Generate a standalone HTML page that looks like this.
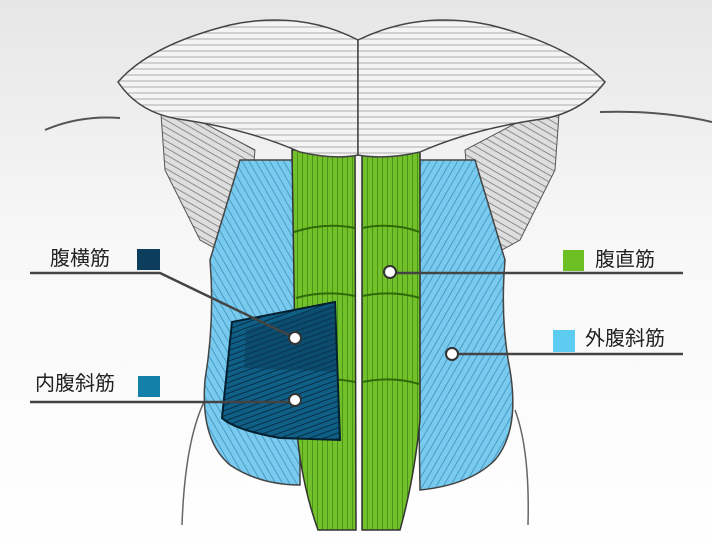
<!DOCTYPE html>
<html><head><meta charset="utf-8"><style>
html,body{margin:0;padding:0;background:#fff}
svg{display:block}
text{font-family:"Liberation Sans","Noto Sans CJK JP",sans-serif;font-size:20px;fill:#222}
</style></head><body>
<svg width="712" height="557" viewBox="0 0 712 557" xmlns="http://www.w3.org/2000/svg">
<defs>
<linearGradient id="bg" x1="0" y1="0" x2="0" y2="1">
<stop offset="0" stop-color="#e6e6e6"/><stop offset="0.45" stop-color="#f8f8f8"/><stop offset="1" stop-color="#fff"/>
</linearGradient>
<pattern id="hl" width="6" height="6" patternUnits="userSpaceOnUse"><rect width="6" height="6" fill="#f4f4f4"/><path d="M0 3H6" stroke="#9a9a9a" stroke-width="0.8"/></pattern>
<pattern id="gv" width="5" height="5" patternUnits="userSpaceOnUse"><rect width="5" height="5" fill="#72c12a"/><path d="M2.5 0V5" stroke="#3f8a10" stroke-width="0.8"/></pattern>
<pattern id="bl" width="6" height="6" patternUnits="userSpaceOnUse" patternTransform="rotate(60)"><rect width="6" height="6" fill="#78cbef"/><path d="M0 3H6" stroke="#3f8fb8" stroke-width="0.8"/></pattern>
<pattern id="br" width="6" height="6" patternUnits="userSpaceOnUse" patternTransform="rotate(-60)"><rect width="6" height="6" fill="#78cbef"/><path d="M0 3H6" stroke="#3f8fb8" stroke-width="0.8"/></pattern>
<pattern id="dk" width="5" height="5" patternUnits="userSpaceOnUse" patternTransform="rotate(-20)"><rect width="5" height="5" fill="#0f5f86"/><path d="M0 2.5H5" stroke="#062a40" stroke-width="0.9"/></pattern>
<pattern id="sv" width="6" height="6" patternUnits="userSpaceOnUse" patternTransform="rotate(30)"><rect width="6" height="6" fill="#dedede"/><path d="M0 3H6" stroke="#777" stroke-width="0.8"/></pattern>
</defs>
<rect width="712" height="557" fill="url(#bg)"/>
<path d="M45 130 Q80 115 120 118" fill="none" stroke="#555" stroke-width="2"/>
<path d="M600 112 Q660 110 712 122" fill="none" stroke="#555" stroke-width="2"/>
<path d="M205 400 Q185 440 182 525" fill="none" stroke="#666" stroke-width="1.5"/>
<path d="M515 410 Q530 450 528 525" fill="none" stroke="#666" stroke-width="1.5"/>
<path d="M160 100 L255 150 L245 265 L200 240 L165 170 Z" fill="url(#sv)" stroke="#555"/>
<path d="M560 100 L465 150 L475 265 L520 240 L555 170 Z" fill="url(#sv)" stroke="#555"/>
<path d="M240 160 L300 160 L300 485 Q260 485 230 465 Q200 440 205 380 Q215 320 210 260 Z" fill="url(#bl)" stroke="#444" stroke-width="1.5"/>
<path d="M475 160 L415 160 L420 490 Q470 485 495 460 Q520 430 510 370 Q500 320 505 260 Z" fill="url(#br)" stroke="#444" stroke-width="1.5"/>
<path d="M292 150 L355 150 L356 530 L318 530 Q300 480 296 420 Z" fill="url(#gv)" stroke="#333" stroke-width="1.5"/>
<path d="M362 150 L420 150 L420 420 Q414 480 400 530 L362 530 Z" fill="url(#gv)" stroke="#333" stroke-width="1.5"/>
<g stroke="#2f6a0a" stroke-width="2" fill="none">
<path d="M294 232 Q325 222 355 228"/><path d="M362 228 Q392 222 420 232"/>
<path d="M296 298 Q325 290 355 296"/><path d="M362 296 Q392 290 420 298"/>
<path d="M298 382 Q325 376 355 382"/><path d="M362 382 Q392 376 419 384"/>
</g>
<path d="M232 322 L335 302 L340 440 L280 438 Q235 430 222 418 Z" fill="url(#dk)" stroke="#04202f" stroke-width="2"/>
<path d="M246 330 L335 304 L336 372 L244 368 Z" fill="#0a3a58" opacity="0.5"/>
<path d="M358 40 Q300 10 230 25 Q150 45 118 82 Q140 115 185 120 Q250 130 300 152 Q335 160 358 155 Z" fill="url(#hl)" stroke="#444" stroke-width="1.5"/>
<path d="M358 40 Q420 10 490 25 Q570 45 605 82 Q580 115 535 120 Q470 130 420 152 Q385 160 358 155 Z" fill="url(#hl)" stroke="#444" stroke-width="1.5"/>
<g stroke="#444" stroke-width="2.5" fill="none">
<path d="M30 273 H160 L295 338"/>
<path d="M30 402 H295"/>
<path d="M390 273 H683"/>
<path d="M452 354 H683"/>
</g>
<g fill="#fff" stroke="#333" stroke-width="2">
<circle cx="295" cy="338" r="6"/><circle cx="295" cy="400" r="6"/>
<circle cx="390" cy="272" r="6"/><circle cx="452" cy="354" r="6"/>
</g>
<text x="50" y="265">腹横筋</text>
<rect x="137" y="249" width="23" height="21" fill="#0d3d5c"/>
<text x="35" y="390">内腹斜筋</text>
<rect x="138" y="376" width="22" height="21" fill="#1280a8"/>
<rect x="563" y="250" width="21" height="21" fill="#6cc024"/>
<text x="595" y="266">腹直筋</text>
<rect x="553" y="330" width="22" height="22" fill="#5ccdf0"/>
<text x="585" y="345">外腹斜筋</text>
</svg>
</body></html>
